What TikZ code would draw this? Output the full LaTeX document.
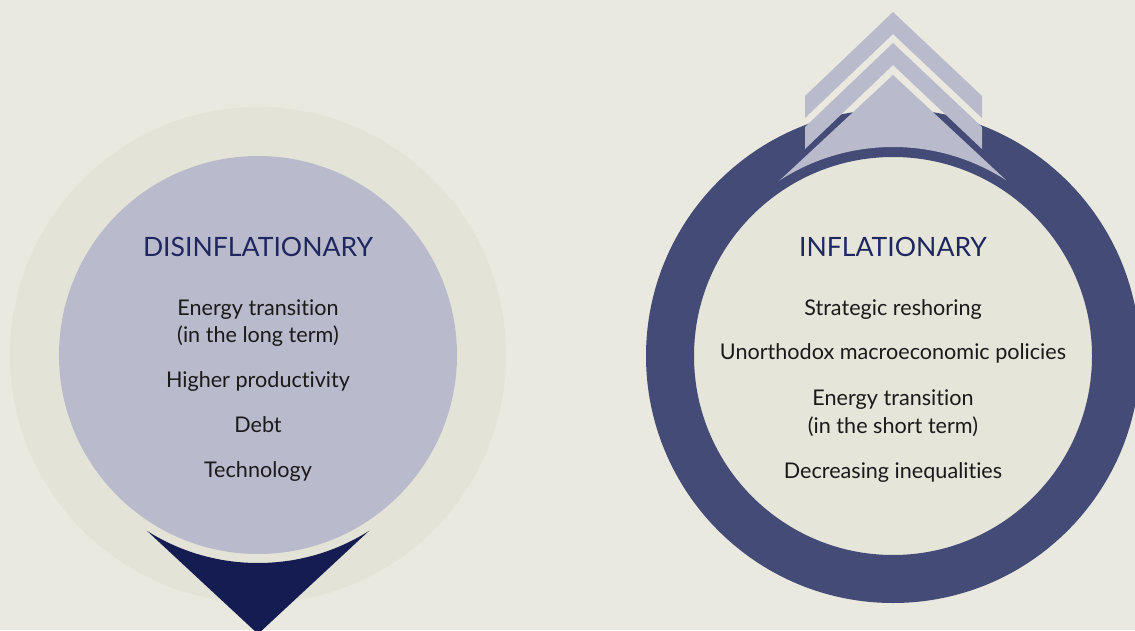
\documentclass[tikz,border=0pt]{standalone}
\usepackage{fontspec}
\setmainfont[Ligatures=NoCommon]{Lato}
\definecolor{bgc}{HTML}{E9E9DF}
\definecolor{halo}{HTML}{E4E3D7}
\definecolor{lilac}{HTML}{B9BACC}
\definecolor{navy}{HTML}{151C52}
\definecolor{ringc}{HTML}{434B76}
\definecolor{core}{HTML}{E6E5D9}
\definecolor{titlec}{HTML}{1F2760}
\definecolor{bodyc}{HTML}{1A1A1A}
\tikzset{
  title/.style={anchor=base, text=titlec, font=\fontsize{26.6}{30}\selectfont},
  item/.style={anchor=base, text=bodyc, font=\fontsize{21.6}{25}\selectfont},
}
\begin{document}
\begin{tikzpicture}[x=1pt,y=1pt]
  % canvas
  \fill[bgc] (0,0) rectangle (1135,630);
  \useasboundingbox (0,0) rectangle (1135,630);

  % ---- disinflationary side ----
  \fill[halo] (258,275) circle (248);
  \begin{scope}
    \clip (145,101) -- (371,101) -- (258,-4) -- cycle;
    \fill[navy, even odd rule] (258,275) circle (208) (0,-10) rectangle (520,640);
  \end{scope}
  \fill[lilac] (258,275) circle (199);

  \node[title] (dtitle) at (258,373) {DISINFLATIONARY};
  \node[item] (d1a) at (258,314.3) {Energy transition};
  \node[item] (d1b) at (258,287.7) {(in the long term)};
  \node[item] (d2) at (258,242.3) {Higher productivity};
  \node[item] (d3) at (258,197.3) {Debt};
  \node[item] (d4) at (258,152.7) {Technology};

  % ---- inflationary side ----
  \fill[core] (893,274) circle (199);
  \fill[ringc, even odd rule] (893,274) circle (247) (893,274) circle (199);
  % upward chevrons
  \fill[lilac] (893,618) -- (982,534) -- (982,512) -- (893,596) -- (805,512) -- (805,534) -- cycle;
  \fill[lilac] (893,587) -- (982,503) -- (982,481) -- (893,565) -- (805,481) -- (805,503) -- cycle;
  \begin{scope}
    \clip (893,555) -- (1043,415.5) -- (743,415.5) -- cycle;
    \fill[lilac, even odd rule] (893,274) circle (209) (640,0) rectangle (1135,640);
  \end{scope}

  \node[title] (ititle) at (893,373) {INFLATIONARY};
  \node[item] (i1) at (893,314.3) {Strategic reshoring};
  \node[item] (i2) at (893,270) {Unorthodox macroeconomic policies};
  \node[item] (i3a) at (893,225) {Energy transition};
  \node[item] (i3b) at (893,196.7) {(in the short term)};
  \node[item] (i4) at (893,151.7) {Decreasing inequalities};
\end{tikzpicture}
\end{document}
